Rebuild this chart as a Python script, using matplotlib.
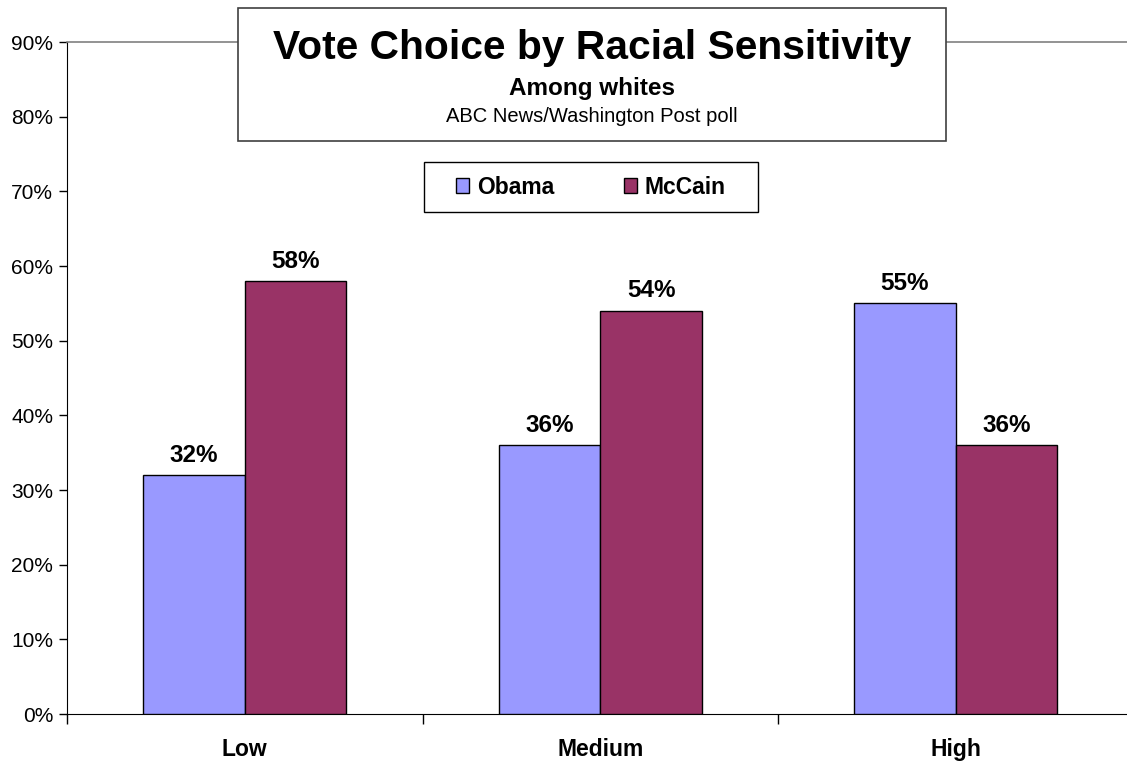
import matplotlib
matplotlib.use("Agg")
import matplotlib.pyplot as plt
import numpy as np
from matplotlib.patches import Rectangle

plt.rcParams['font.family'] = ['Liberation Sans', 'DejaVu Sans']

categories = ["Low", "Medium", "High"]
series_names = ["Obama", "McCain"]
obama = [32, 36, 55]
mccain = [58, 54, 36]
yticks = [0, 10, 20, 30, 40, 50, 60, 70, 80, 90]
ytick_labels = [f"{v}%" for v in yticks]
title = "Vote Choice by Racial Sensitivity"
subtitle = "Among whites"
source = "ABC News/Washington Post poll"
colors = ["#9999FF", "#993366"]

W, H = 1127, 762
fig = plt.figure(figsize=(W / 100, H / 100), dpi=100)
ax_left, ax_right, ax_top, ax_bottom = 67, 1133.5, 42, 714
ax = fig.add_axes([ax_left / W, (H - ax_bottom) / H, (ax_right - ax_left) / W, (ax_bottom - ax_top) / H])

x = np.arange(len(categories))
bw = 1 / 3.5
b1 = ax.bar(x - bw / 2, obama, bw, color=colors[0], edgecolor="black", linewidth=1.0, label=series_names[0], zorder=3)
b2 = ax.bar(x + bw / 2, mccain, bw, color=colors[1], edgecolor="black", linewidth=1.0, label=series_names[1], zorder=3)

for bars, vals in ((b1, obama), (b2, mccain)):
    for rect, v in zip(bars, vals):
        ax.annotate(f"{v}%", (rect.get_x() + rect.get_width() / 2, v), xytext=(0, 6),
                    textcoords="offset points", ha="center", va="bottom",
                    fontsize=17.5, fontweight="bold")

ax.set_xlim(-0.5, len(categories) - 0.5)
ax.set_ylim(0, 90)
ax.set_yticks(yticks)
ax.set_yticklabels(ytick_labels, fontsize=15)
ax.tick_params(axis="y", direction="out", length=6, width=1, pad=4, colors="black")

# category boundaries as major ticks, labels at centers via minor ticks
ax.set_xticks(np.arange(-0.5, len(categories), 1.0))
ax.set_xticklabels([])
ax.set_xticks(x, minor=True)
ax.set_xticklabels(categories, minor=True, fontsize=16.5, fontweight="bold")
ax.tick_params(axis="x", which="major", direction="out", length=7, width=1)
ax.tick_params(axis="x", which="minor", length=0, pad=17)

ax.spines["right"].set_visible(False)
ax.spines["top"].set_color("#808080")
ax.spines["top"].set_linewidth(1.2)
ax.spines["left"].set_color("black")
ax.spines["bottom"].set_color("black")

# title box
tb_x0, tb_x1, tb_y0, tb_y1 = 238, 946, 8, 141
fig.patches.append(Rectangle((tb_x0 / W, 1 - tb_y1 / H), (tb_x1 - tb_x0) / W, (tb_y1 - tb_y0) / H,
                             transform=fig.transFigure, facecolor="white", edgecolor="#404040",
                             linewidth=1.2, zorder=5))
cx = (tb_x0 + tb_x1) / 2 / W
fig.text(cx, 1 - 48 / H, title, ha="center", va="center", fontsize=29.3, fontweight="bold", zorder=6)
fig.text(cx, 1 - 89 / H, subtitle, ha="center", va="center", fontsize=17.5, fontweight="bold", zorder=6)
fig.text(cx, 1 - 116 / H, source, ha="center", va="center", fontsize=14.5, zorder=6)

# legend box
lb_x0, lb_x1, lb_y0, lb_y1 = 424, 758, 162, 212
fig.patches.append(Rectangle((lb_x0 / W, 1 - lb_y1 / H), (lb_x1 - lb_x0) / W, (lb_y1 - lb_y0) / H,
                             transform=fig.transFigure, facecolor="white", edgecolor="black",
                             linewidth=1.0, zorder=5))
leg = fig.legend(handles=[b1, b2], labels=series_names, ncol=2, loc="center",
                 bbox_to_anchor=((lb_x0 + lb_x1) / 2 / W, 1 - (lb_y0 + lb_y1) / 2 / H),
                 bbox_transform=fig.transFigure, frameon=False,
                 prop={"size": 16.5, "weight": "bold"}, handlelength=0.58, handleheight=0.58,
                 handletextpad=0.35, columnspacing=3.0, borderpad=0.0, borderaxespad=0)
leg.set_zorder(7)

fig.savefig("out.png", dpi=100, facecolor="white")
